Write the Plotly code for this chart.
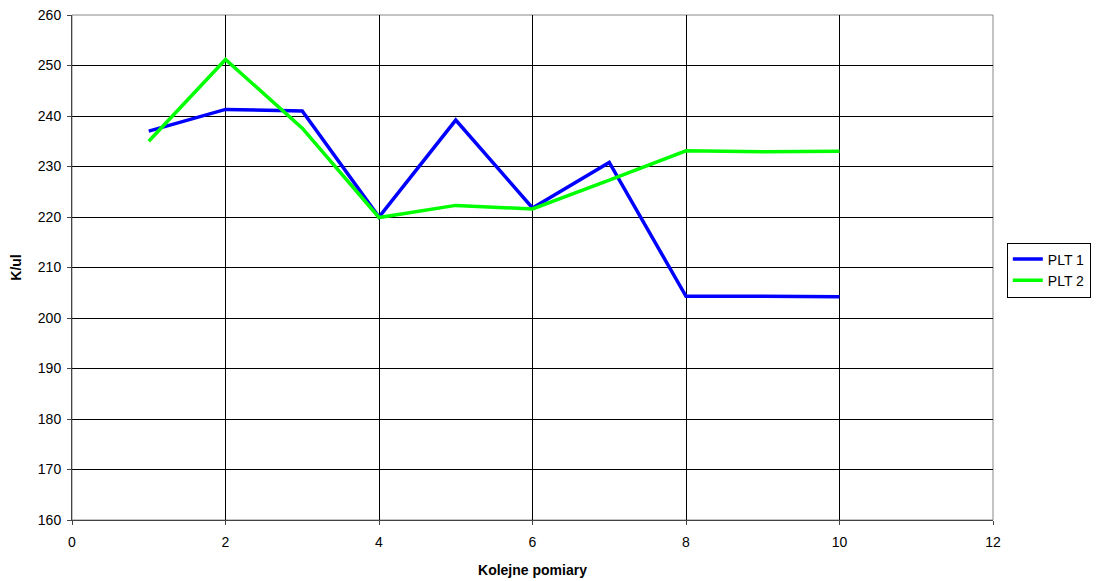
import plotly.graph_objects as go

x_vals = [1, 2, 3, 4, 5, 6, 7, 8, 9, 10]
plt1 = [237.0, 241.3, 241.0, 220.0, 239.2, 221.8, 230.8, 204.3, 204.3, 204.2]
plt2 = [235.0, 251.2, 237.6, 219.9, 222.3, 221.6, 227.3, 233.1, 232.9, 233.0]
series_names = ["PLT 1", "PLT 2"]
x_title = "Kolejne pomiary"
y_title = "K/ul"

fig = go.Figure()
fig.add_trace(go.Scatter(x=x_vals, y=plt1, mode="lines", name=series_names[0],
                         line=dict(color="#0000FF", width=3.5)))
fig.add_trace(go.Scatter(x=x_vals, y=plt2, mode="lines", name=series_names[1],
                         line=dict(color="#00FF00", width=3.5)))

fig.update_layout(
    width=1091, height=573,
    margin=dict(l=64, r=106, t=7, b=61, autoexpand=False),
    paper_bgcolor="white", plot_bgcolor="white",
    font=dict(family="Liberation Sans, Arial", size=14, color="black"),
    showlegend=True,
    legend=dict(x=1.015, y=0.495, xanchor="left", yanchor="middle",
                bordercolor="black", borderwidth=1, bgcolor="white",
                font=dict(size=14), tracegroupgap=0),
    xaxis=dict(range=[0, 12], dtick=2, tick0=0, showgrid=True, gridcolor="black", gridwidth=1,
               showline=True, linecolor="#444", linewidth=1, mirror=False,
               ticks="outside", ticklen=4, tickcolor="#444", zeroline=False,
               ticklabelstandoff=5, ticklabeloverflow="allow", automargin=False,
               title=dict(text="<b>" + x_title + "</b>", font=dict(size=14), standoff=16)),
    yaxis=dict(range=[160, 260], dtick=10, showgrid=True, gridcolor="black", gridwidth=1,
               showline=True, linecolor="#444", linewidth=1,
               ticks="outside", ticklen=4, tickcolor="#444", zeroline=False,
               ticklabelstandoff=3, ticklabeloverflow="allow", automargin=False,
               title=dict(text="<b>" + y_title + "</b>", font=dict(size=14), standoff=14)),
)
# gray top and right border
fig.add_shape(type="rect", xref="paper", yref="paper", x0=0, y0=0, x1=1, y1=1,
              line=dict(color="#888", width=1), layer="below")

fig.write_html("out.html")
